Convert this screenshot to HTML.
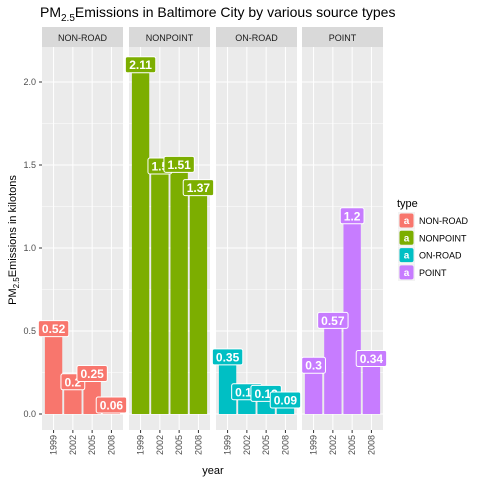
<!DOCTYPE html>
<html><head><meta charset="utf-8"><style>
body{margin:0;background:#fff;}
svg text{font-family:"Liberation Sans",Arial,sans-serif;}
</style></head><body>
<svg id="c" width="480" height="480" xmlns="http://www.w3.org/2000/svg">
<text x="40" y="17" font-size="14" fill="#000">PM<tspan font-size="10" dy="4">2.5</tspan><tspan dy="-4">Emissions in Baltimore City by various source types</tspan></text>
<text transform="translate(16,240) rotate(-90)" text-anchor="middle" font-size="11" fill="#000">PM<tspan font-size="8" dy="3">2.5</tspan><tspan dy="-3">Emissions in kilotons</tspan></text>
<text x="213" y="474" text-anchor="middle" font-size="11" fill="#000">year</text>
<g id="g"></g>
</svg>
<script>
const facets = ["NON-ROAD","NONPOINT","ON-ROAD","POINT"];
const years = ["1999","2002","2005","2008"];
const valNonRoad = [0.52,0.2,0.25,0.06];
const valNonpoint = [2.11,1.5,1.51,1.37];
const valOnRoad = [0.35,0.14,0.13,0.09];
const valPoint = [0.3,0.57,1.2,0.34];
const yTicks = [0,0.5,1,1.5,2];
const yTickLabels = ["0.0","0.5","1.0","1.5","2.0"];
const series = [valNonRoad,valNonpoint,valOnRoad,valPoint];
const colors = ["#F8766D","#7CAE00","#00BFC4","#C77CFF"];
const NS="http://www.w3.org/2000/svg";
const gEl=document.getElementById('g');
function mk(t,a,p){const e=document.createElementNS(NS,t);for(const k in a)e.setAttribute(k,a[k]);(p||gEl).appendChild(e);return e;}
const panelX=[42,129,216,302], panelW=81, pTop=47, pBot=430;
const yS=v=>414-v*166;
const step=panelW/4.2;
const xPos=(p,i)=>panelX[p]+step*(0.6+i);
yTicks.forEach((t,i)=>{
  const tx=mk('text',{x:36,y:yS(t)+3,'text-anchor':'end','font-size':9,fill:'#4d4d4d'});
  tx.textContent=yTickLabels[i];
  
  
  mk('line',{x1:39,x2:42,y1:yS(t),y2:yS(t),stroke:'#333','stroke-width':1});
});
facets.forEach((f,p)=>{
  const px=panelX[p];
  const bg=mk('rect',{x:px,y:pTop,width:panelW,height:pBot-pTop,fill:'#EBEBEB'});
  
  
  const st=mk('rect',{x:px,y:27,width:panelW,height:20,fill:'#D9D9D9'});
  
  
  const sl=mk('text',{x:px+panelW/2,y:41,'text-anchor':'middle','font-size':9,fill:'#1a1a1a'});
  sl.textContent=f;
  
  
  for(let k=0;k<yTicks.length;k++){
    const t=yTicks[k];
    mk('line',{x1:px,x2:px+panelW,y1:yS(t),y2:yS(t),stroke:'#fff','stroke-width':1});
    const m=t+0.25; if(yS(m)>pTop) mk('line',{x1:px,x2:px+panelW,y1:yS(m),y2:yS(m),stroke:'#fff','stroke-width':0.5});
  }
  mk('line',{x1:px,x2:px+panelW,y1:yS(-0.25),y2:yS(-0.25),stroke:'#fff','stroke-width':0.5});
  years.forEach((yr,i)=>{
    const cx=xPos(p,i);
    mk('line',{x1:cx,x2:cx,y1:pTop,y2:pBot,stroke:'#fff','stroke-width':1});
    mk('line',{x1:cx,x2:cx,y1:pBot,y2:pBot+3,stroke:'#333','stroke-width':1});
    const tl=mk('text',{transform:`translate(${cx+3},${pBot+5}) rotate(-90)`,'text-anchor':'end','font-size':9,fill:'#4d4d4d'});
    tl.textContent=yr;
    
    
  });
  const vals=series[p], bw=step*0.9;
  vals.forEach((v,i)=>{
    const cx=xPos(p,i);
    const b=mk('rect',{x:cx-bw/2,y:yS(v)+6,width:bw,height:Math.max(0,yS(0)-yS(v)-6),fill:colors[p]});
    
    
  });
  vals.forEach((v,i)=>{
    const cx=xPos(p,i), ly=yS(v)+1, txt=String(v), w=txt.length*6.6+4;
    const r=mk('rect',{x:cx-w/2,y:ly-8,width:w,height:16,rx:2,fill:colors[p],stroke:'#fff','stroke-width':1});
    
    
    const t=mk('text',{x:cx,y:ly+4.5,'text-anchor':'middle','font-size':12,'font-weight':'bold',fill:'#fff'});
    t.textContent=txt;
    
    
  });
});
const lt=mk('text',{x:397,y:207,'font-size':11,fill:'#000'});
lt.textContent='type';


facets.forEach((f,i)=>{
  const yy=212+i*17.3;
  const k=mk('rect',{x:398,y:yy,width:17,height:17,fill:'#F2F2F2'});
  
  
  mk('rect',{x:399.5,y:yy+1.5,width:14,height:14,rx:2,fill:colors[i]});
  const a=mk('text',{x:406.5,y:yy+12,'text-anchor':'middle','font-size':10,'font-weight':'bold',fill:'#fff'});
  a.textContent='a';
  const t=mk('text',{x:419,y:yy+12,'font-size':9,fill:'#000'});
  t.textContent=f;
  
  
});
</script>
</body></html>
